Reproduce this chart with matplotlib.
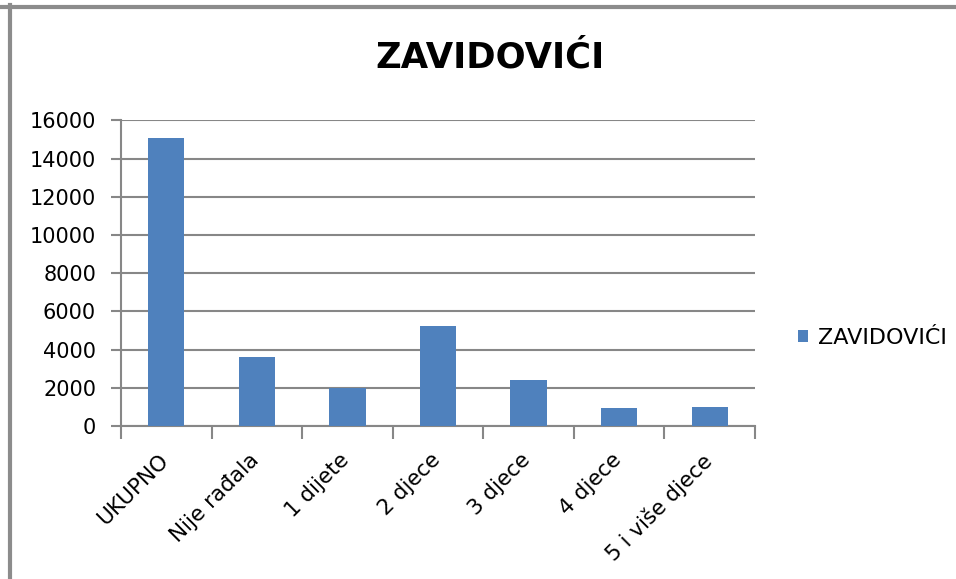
import matplotlib
matplotlib.use("Agg")
import matplotlib.pyplot as plt
import matplotlib.transforms as mtransforms
from matplotlib.lines import Line2D
from matplotlib.patches import Patch
import numpy as np

# Data
categories = ["UKUPNO", "Nije rađala", "1 dijete", "2 djece", "3 djece", "4 djece", "5 i više djece"]
values = [15050, 3630, 2000, 5220, 2390, 920, 970]
series_name = "ZAVIDOVIĆI"
yticks = [0, 2000, 4000, 6000, 8000, 10000, 12000, 14000, 16000]

bar_color = "#4F81BD"
grid_color = "#878787"

fig = plt.figure(figsize=(9.56, 5.79), dpi=100)
ax = fig.add_axes([121 / 956, 1 - 426 / 579, 634 / 956, (426 - 120.3) / 579])

x = np.arange(len(categories))
ax.bar(x, values, width=0.4, color=bar_color, zorder=3)

ax.set_xlim(-0.5, len(categories) - 0.5)
ax.set_ylim(0, 16000)
ax.set_yticks(yticks)
ax.set_yticklabels([str(v) for v in yticks], fontsize=15)
ax.yaxis.grid(True, color=grid_color, linewidth=1.5, zorder=0)

# x ticks sit between categories; category names are drawn as rotated texts
ax.set_xticks(np.arange(-0.5, len(categories) + 0.5, 1))
ax.set_xticklabels([])
ax.tick_params(axis="x", length=9, width=1.5, color=grid_color)
ax.tick_params(axis="y", length=7, width=1.5, color=grid_color, pad=11)

offset = mtransforms.ScaledTranslation(-8 / 100, -24 / 100, fig.dpi_scale_trans)
for xi, name in zip(x, categories):
    ax.text(xi, 0, name, transform=ax.get_xaxis_transform() + offset,
            rotation=45, rotation_mode="anchor", ha="right", va="top", fontsize=15.5)

for s in ["top", "right"]:
    ax.spines[s].set_visible(False)
for s in ["left", "bottom"]:
    ax.spines[s].set_color(grid_color)
    ax.spines[s].set_linewidth(1.5)

fig.text(490 / 956, 1 - 67 / 579, "ZAVIDOVIĆI", fontsize=25.5, fontweight="bold",
         ha="center", va="baseline")

handle = Patch(facecolor=bar_color, edgecolor="none")
fig.legend([handle], [series_name], loc="center left",
           bbox_to_anchor=(798 / 956, 1 - 338 / 579), frameon=False, borderpad=0,
           borderaxespad=0, fontsize=16, handlelength=0.45, handleheight=0.45,
           handletextpad=0.45)

# outer frame lines (top and left)
fig.add_artist(Line2D([0, 1], [1 - 7 / 579, 1 - 7 / 579], color="#8c8c8c", linewidth=3))
fig.add_artist(Line2D([10 / 956, 10 / 956], [0, 1 - 5 / 579], color="#8c8c8c", linewidth=3))

fig.savefig("out.png", dpi=100)
